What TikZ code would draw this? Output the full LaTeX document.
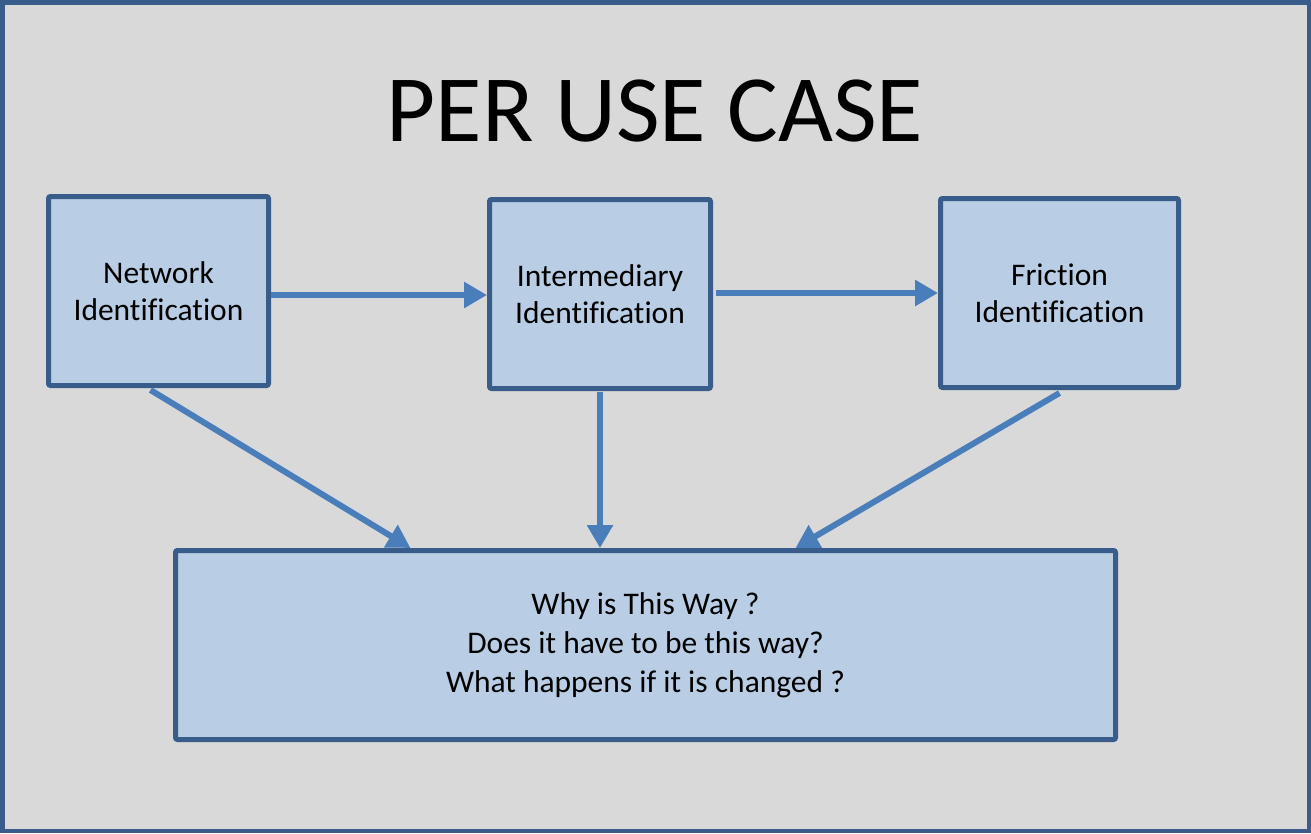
\documentclass[tikz,border=0pt]{standalone}
\usepackage{fontspec}
\setmainfont[Ligatures=NoCommon]{Carlito}
\usetikzlibrary{arrows.meta,calc}

\definecolor{pagebg}{HTML}{D9D9D9}
\definecolor{frameblue}{HTML}{385D8A}
\definecolor{boxfill}{HTML}{B9CDE5}
\definecolor{arrowblue}{HTML}{4A7EBB}

\tikzset{
  stagebox/.style={draw=frameblue, fill=boxfill, line width=5pt,
    rounded corners=2pt, align=center, inner sep=0pt,
    font=\fontsize{31.5}{37}\selectfont},
  flow/.style={draw=arrowblue, line width=6pt,
    -{Triangle[length=23pt,width=25pt]}},
}

\begin{document}
\begin{tikzpicture}[x=1pt,y=-1pt]
  % page and outer frame
  \useasboundingbox (0,0) rectangle (1311,833);
  \fill[pagebg] (0,0) rectangle (1311,833);
  \draw[frameblue, line width=4.5pt] (2.25,2.25) rectangle (1308.75,830.75);

  % heading
  \node[anchor=base, font=\fontsize{95}{110}\selectfont, inner sep=0pt]
    (title) at (655,141) {PER USE CASE};

  % stages
  \node[stagebox, minimum width=220pt, minimum height=189pt]
    (net) at (158.5,291) {Network\\Identification};
  \node[stagebox, minimum width=221pt, minimum height=189pt]
    (inter) at (600,294) {Intermediary\\Identification};
  \node[stagebox, minimum width=238pt, minimum height=189pt]
    (fric) at (1059.5,293) {Friction\\Identification};
  \node[stagebox, minimum width=940pt, minimum height=189pt,
        font=\fontsize{31.5}{39}\selectfont]
    (questions) at (645.5,645) {Why is This Way ?\\Does it have to be this way?\\What happens if it is changed ?};

  % connectors
  \draw[flow] ([yshift=-4pt]net.east) -- ([yshift=-4pt]net.east -| inter.west);
  \draw[flow] ([xshift=3pt,yshift=1pt]inter.east) -- ([yshift=1pt]inter.east -| fric.west);
  \draw[flow] ([xshift=-8pt,yshift=-2pt]net.south) -- ([xshift=-235pt]questions.north);
  \draw[flow] ([yshift=-1pt]inter.south) -- (inter.south |- questions.north);
  \draw[flow] ([yshift=-3pt]fric.south) -- ([xshift=150pt]questions.north);
\end{tikzpicture}
\end{document}
